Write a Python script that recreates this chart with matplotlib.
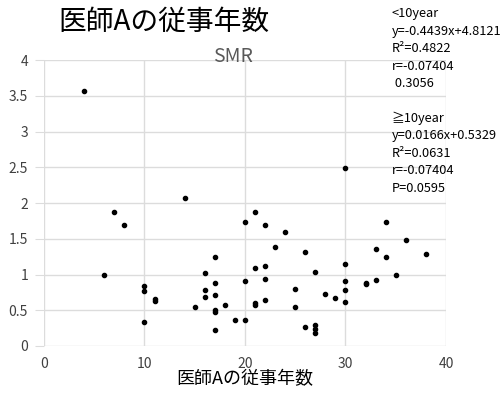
import numpy as np
import matplotlib
matplotlib.use("Agg")
import matplotlib.pyplot as plt

plt.rcParams['font.family'] = ['Noto Sans CJK JP', 'DejaVu Sans']

#### data: years of practice vs SMR

years = [4, 7, 8, 6, 10, 10, 11, 11, 10, 14, 15, 16, 16, 16, 17, 17, 17, 17, 17, 17,
         18, 19, 20, 20, 20, 21, 21, 21, 21, 22, 22, 22, 22, 24, 23, 25, 25, 26, 26,
         27, 27, 27, 27, 28, 29, 30, 30, 30, 30, 30, 32, 32, 33, 33, 34, 34, 35, 36, 38]
smr = [3.56, 1.88, 1.69, 0.99, 0.84, 0.77, 0.66, 0.63, 0.33, 2.07, 0.54, 1.02, 0.79, 0.68,
       1.24, 0.88, 0.72, 0.50, 0.47, 0.22, 0.58, 0.37, 1.74, 0.91, 0.36, 1.87, 1.09, 0.60,
       0.57, 1.69, 1.12, 0.94, 0.65, 1.60, 1.39, 0.80, 0.54, 1.31, 0.27, 1.04, 0.29, 0.24,
       0.18, 0.73, 0.67, 2.49, 1.14, 0.91, 0.78, 0.61, 0.88, 0.87, 1.35, 0.92, 1.74, 1.25,
       1.00, 1.48, 1.29]

x_ticks = [0, 10, 20, 30, 40]
y_ticks = [0, 0.5, 1, 1.5, 2, 2.5, 3, 3.5, 4]
y_tick_labels = ['0', '0.5', '1', '1.5', '2', '2.5', '3', '3.5', '4']

stats_lines = ['<10year', 'y=-0.4439x+4.8121', 'R²=0.4822', 'r=-0.07404', ' 0.3056', '',
               '≧10year', 'y=0.0166x+0.5329', 'R²=0.0631', 'r=-0.07404', 'P=0.0595']

#### build the figure

fig = plt.figure(figsize=(5.04, 3.93), dpi=100)
ax = fig.add_axes([0.0873, 0.1196, 0.7976, 0.7277])

ax.scatter(years, smr, s=9, c='black', marker='o', zorder=3)

ax.set_xlim(0, 40)
ax.set_ylim(0, 4)
ax.set_xticks(x_ticks)
ax.set_yticks(y_ticks)
ax.set_yticklabels(y_tick_labels)

# light grid only, no frame
for s in ax.spines.values():
    s.set_visible(False)
ax.grid(True, color='#dcdcdc', linewidth=1)
ax.set_axisbelow(True)
ax.tick_params(axis='y', length=6.5, color='#dcdcdc', pad=5, labelsize=10, labelcolor='#404040')
ax.tick_params(axis='x', length=0, pad=8, labelsize=10, labelcolor='#404040')

ax.set_xlabel('医師Aの従事年数', fontsize=13, labelpad=-1, color='black')

# titles
fig.text(0.325, 0.945, '医師Aの従事年数', fontsize=20, ha='center', va='center', color='black')
fig.text(0.462, 0.855, 'SMR', fontsize=14, ha='center', va='center', color='#595959')

# regression text on the right
for i, line in enumerate(stats_lines):
    fig.text(0.777, 1 - (14 + i * 17.4) / 393, line, fontsize=9.2, ha='left', va='center',
             color='black')

fig.savefig('out.png', dpi=100)
